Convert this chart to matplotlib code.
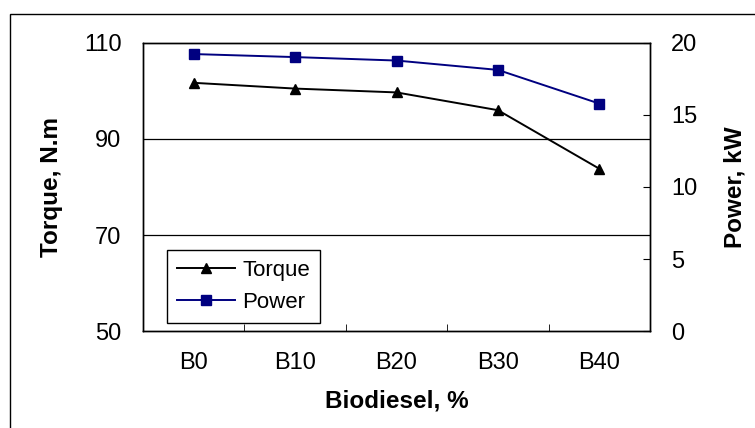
import matplotlib.pyplot as plt
from matplotlib.patches import Rectangle

plt.rcParams['font.family'] = ['Liberation Sans', 'DejaVu Sans']

# data
blends = ['B0', 'B10', 'B20', 'B30', 'B40']
torque = [101.7, 100.5, 99.7, 96.0, 83.8]   # N.m
power = [19.23, 19.02, 18.78, 18.13, 15.79]  # kW

fig = plt.figure(figsize=(7.55, 4.28), dpi=100)
ax = fig.add_axes([0.1894, 0.2266, 0.6716, 0.673])
ax2 = ax.twinx()

x = list(range(len(blends)))
l1, = ax.plot(x, torque, color='black', lw=1.4, marker='^', ms=6.5, label='Torque')
l2, = ax2.plot(x, power, color='#000080', lw=1.4, marker='s', ms=6.5, label='Power')

ax.set_xlim(-0.5, len(blends) - 0.5)
ax.set_ylim(50, 110)
ax.set_yticks([50, 70, 90, 110])
ax2.set_ylim(0, 20)
ax2.set_yticks([0, 5, 10, 15, 20])

# category labels centred, tick marks between categories
ax.set_xticks(x)
ax.set_xticklabels(blends)
ax.tick_params(axis='x', which='major', length=0, labelsize=17, pad=15)
ax.set_xticks([i + 0.5 for i in x[:-1]], minor=True)
ax.tick_params(axis='x', which='minor', direction='in', length=5, color='black')
ax.tick_params(axis='y', length=0, labelsize=17, pad=15.5)
ax2.tick_params(axis='y', direction='in', length=5, labelsize=17, pad=15)

for g in [70, 90]:
    ax.axhline(g, color='black', lw=0.9)

for a in (ax, ax2):
    for s in a.spines.values():
        s.set_color('black')
        s.set_linewidth(1.0)

ax.set_xlabel('Biodiesel, %', fontsize=17.5, fontweight='bold', labelpad=11)
ax.set_ylabel('Torque, N.m', fontsize=17.5, fontweight='bold', labelpad=15)
ax2.set_ylabel('Power, kW', fontsize=17.5, fontweight='bold', labelpad=19)

leg = ax.legend([l1, l2], ['Torque', 'Power'], loc='lower left',
                bbox_to_anchor=(0.047, 0.028), fontsize=16, fancybox=False,
                edgecolor='black', framealpha=1, handlelength=2.6,
                handletextpad=0.35, borderpad=0.45, labelspacing=0.5,
                borderaxespad=0)
leg.get_frame().set_linewidth(1.0)

# outer frame around the figure
fig.patches.append(Rectangle((10 / 755, -0.1), 1.2, 1 - 14 / 428 + 0.1,
                             transform=fig.transFigure, fill=False,
                             edgecolor='black', lw=1.0))

fig.savefig('out.png', dpi=100)
